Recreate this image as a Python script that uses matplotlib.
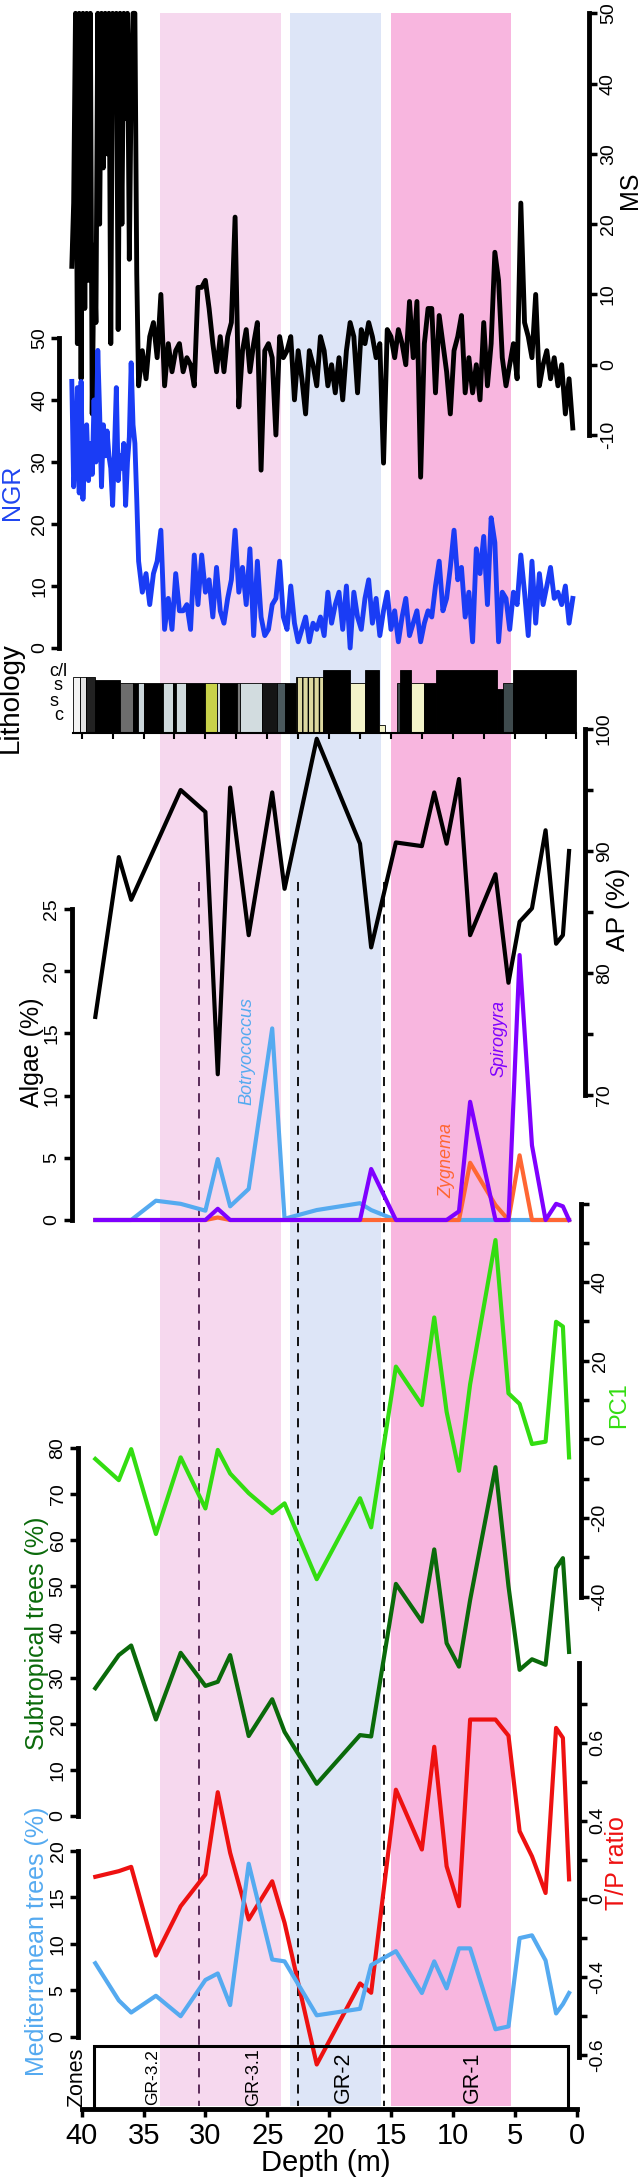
import numpy as np
import matplotlib
matplotlib.use('Agg')
import matplotlib.pyplot as plt
from matplotlib.patches import Rectangle

plt.rcParams['font.family'] = ['Liberation Sans', 'DejaVu Sans']
plt.rcParams['hatch.linewidth'] = 1.0

# ---------------- data ----------------
# high resolution logs (MS, NGR): deep part read every 0.15 m, rest every 0.3 m
deep_depth = np.round(np.arange(40.8, 35.5, -0.15), 2)
main_depth = np.round(np.arange(35.4, 0.2, -0.3), 1)
log_depth = np.concatenate([deep_depth, main_depth])

ms_deep = [14, 23, 50, 3, 50, -2, 50, 8, 50, 12,
           50, -7, 17, 6, 50, 20, 50, 28, 50, 30,
           50, 3, 50, 40, 50, 5, 50, 20, 50, 35,
           50, 15, 40, 50, 50, 13]
ms_main = [-3, 2,
           -2, 4, 6, 1, 10, -3, 3, -1, 2, 3,
           -1, 1, 0, -3, 11, 11, 12, 8, 3, -1,
           4, -1, 4, 6, 21, -6, 2, 5, -1, 3,
           6, -15, 2, 3, 1, -10, 4, 1, 2, 4,
           -5, 2, -2, -7, 2, 0, -3, 4, 2, -3,
           0, -4, 1, -5, 2, 6, 4, -4, 5, 3,
           6, 4, 1, 3, -14, 5, 4, 1, 5, 3,
           0, 9, 1, 9, -16, 3, 8, 8, -4, 7,
           3, -1, -7, 2, 4, 7, -4, 1, -4, 0,
           -5, 6, -3, 3, 16, 12, 1, -3, 0, 3,
           -2, 23, 6, 4, 1, 10, -3, 0, 2, -2,
           1, -3, 0, -7, -2, -9]
ngr_deep = [43, 26, 30, 42, 25, 43, 24, 33, 36, 27,
            33, 28, 40, 30, 48, 38, 26, 36, 31, 35,
            31, 29, 23, 32, 42, 27, 31, 29, 33, 23,
            30, 34, 46, 36, 33, 24]
ngr_main = [14, 9,
            12, 7, 12, 14, 19, 3, 8, 3, 12, 6,
            6, 7, 3, 15, 7, 15, 9, 11, 5, 13,
            6, 4, 8, 11, 19, 9, 13, 7, 16, 2,
            14, 5, 2, 3, 7, 8, 14, 5, 3, 10,
            4, 1, 3, 5, 1, 4, 3, 5, 2, 9,
            4, 7, 9, 3, 10, 0, 9, 5, 3, 8,
            11, 4, 8, 2, 6, 9, 3, 6, 1, 5,
            8, 2, 4, 6, 1, 4, 6, 5, 10, 14,
            6, 8, 13, 19, 11, 13, 5, 9, 1, 16,
            12, 18, 7, 21, 17, 1, 9, 8, 3, 9,
            7, 15, 9, 2, 14, 4, 12, 7, 10, 13,
            8, 9, 7, 10, 4, 8]
ms = ms_deep + ms_main
ngr = ngr_deep + ngr_main

# pollen / algae samples
pollen_depth = [38.9, 37.0, 36.0, 34.0, 32.0, 30.0, 29.0, 28.0, 26.5, 24.6,
                23.6, 21.0, 17.5, 16.6, 14.6, 12.5, 11.5, 10.5, 9.5, 8.6,
                6.55, 5.5, 4.6, 3.6, 2.5, 1.65, 1.1, 0.6]
ap = [76.4, 89.5, 86.0, 90.5, 95.0, 93.2, 71.7, 95.2, 83.1, 94.8,
      86.9, 99.2, 90.6, 82.1, 90.7, 90.4, 94.8, 90.6, 95.9, 83.1,
      88.1, 79.2, 84.2, 85.3, 91.7, 82.4, 83.1, 90.0]
botryococcus = [0, 0, 0, 1.55, 1.3, 0.75, 4.9, 1.1, 2.5, 15.4,
                0.1, 0.8, 1.35, 0.8, 0, 0, 0, 0, 0, 0,
                0, 0, 0, 0, 0, 0, 0, 0]
zygnema = [0, 0, 0, 0, 0, 0, 0.2, 0, 0, 0,
           0, 0, 0, 0, 0, 0, 0, 0, 0, 4.6,
           1.2, 0, 5.2, 0, 0, 0, 0, 0]
spirogyra = [0, 0, 0, 0, 0, 0, 0.9, 0, 0, 0,
             0, 0, 0, 4.1, 0, 0, 0, 0, 0.7, 9.5,
             0, 0, 21.3, 6.0, 0, 1.3, 1.1, 0]
pc1 = [-5.0, -10.4, -2.5, -24.1, -4.6, -17.6, -2.7, -8.7, -13.7, -18.8,
       -16.3, -35.6, -15.0, -22.4, 18.5, 8.7, 31.0, 7.0, -8.0, 14.0,
       50.7, 11.7, 9.0, -1.2, -0.6, 29.9, 28.7, -4.6]
subtropical = [27.8, 35.0, 37.1, 21.0, 35.5, 28.3, 29.2, 35.0, 17.4, 25.4,
               18.3, 7.0, 17.6, 17.3, 50.5, 42.3, 58.0, 37.6, 32.5, 47.0,
               75.9, 50.0, 31.8, 34.1, 32.9, 53.9, 56.1, 35.7]
tp_ratio = [0.113, 0.142, 0.164, -0.291, -0.038, 0.125, 0.547, 0.236, -0.106, 0.09,
            -0.123, -0.85, -0.434, -0.482, 0.56, 0.253, 0.78, 0.167, -0.038, 0.92,
            0.92, 0.837, 0.347, 0.218, 0.03, 0.877, 0.826, 0.1]
mediterranean = [7.9, 3.9, 2.6, 4.4, 2.2, 6.1, 6.8, 3.4, 18.6, 8.3,
                 8.1, 2.3, 3.0, 7.7, 9.2, 4.7, 8.1, 5.2, 9.5, 9.5,
                 0.8, 1.1, 10.6, 10.9, 8.2, 2.5, 3.5, 4.7]

# lithology units (deep end, shallow end, grain size level, colour)
lith_from = [40.68, 40.14, 39.65, 38.93, 36.9, 35.85, 35.45, 34.96, 33.42, 32.62,
             32.37, 31.57, 30.03, 29.06, 28.82, 27.45, 27.2, 25.42, 24.21, 23.57,
             22.68, 20.52, 18.31, 17.1, 15.96, 14.54, 14.27, 13.4, 12.33, 11.36,
             6.43, 5.97, 5.16]
lith_to = [40.14, 39.65, 38.93, 36.9, 35.85, 35.45, 34.96, 33.42, 32.62, 32.37,
           31.57, 30.03, 29.06, 28.82, 27.45, 27.2, 25.42, 24.21, 23.57, 22.68,
           20.52, 18.31, 17.1, 15.96, 15.47, 14.27, 13.4, 12.33, 11.36, 6.43,
           5.97, 5.16, 0.0]
lith_level = [0.89, 0.89, 0.89, 0.84, 0.80, 0.79, 0.79, 0.79, 0.79, 0.79,
              0.79, 0.79, 0.79, 0.79, 0.79, 0.79, 0.79, 0.79, 0.79, 0.79,
              0.89, 1.0, 0.79, 1.0, 0.12, 0.79, 1.0, 0.79, 0.79, 1.0,
              0.70, 0.79, 1.0]
lith_col = ['#f4f4f4', '#e4e4e4', '#222222', 'black', '#6d6d6d', 'black', '#cbd6da', 'black',
            '#d0dadd', 'black', '#d0dadd', 'black', '#c9d24a', '#d0dadd', 'black', '#7a7a7a',
            '#d2dcdf', '#151515', '#4a585c', 'black', '#ddd8a0', 'black', '#f3f3c9', 'black',
            '#f3f3c9', '#3a4446', 'black', '#f3f3c9', 'black', 'black', 'black', '#3e4a4d', 'black']

band_from = [33.65, 23.2, 15.0]
band_to = [23.93, 15.8, 5.3]
band_col = ['#f6d8ee', '#dde5f7', '#f8b6df']
dash_depth = [30.55, 22.5, 15.6]
dash_col = ['#4d1d4d', 'black', 'black']

zone_names = ['GR-3.2', 'GR-3.1', 'GR-2', 'GR-1']
zone_pos = [34.3, 26.1, 18.85, 8.43]
zone_size = [12.5, 13, 15.5, 15.5]

# ---------------- figure ----------------
W, H = 641, 2180
fig = plt.figure(figsize=(W / 100, H / 100), dpi=100)


def depth_at(xp):
    return (576.5 - xp) / 12.37


def panel(y_top, y_bot, x_left=81.8, x_right=576.5):
    ax = fig.add_axes([x_left / W, 1 - y_bot / H, (x_right - x_left) / W, (y_bot - y_top) / H])
    ax.set_xlim(depth_at(x_left), depth_at(x_right))
    ax.patch.set_visible(False)
    for s in ax.spines.values():
        s.set_visible(False)
    ax.set_xticks([])
    ax.set_yticks([])
    return ax


def yaxis(ax, side, lim, ticks, labels):
    ax.set_ylim(*lim)
    ax.spines[side].set_visible(True)
    ax.spines[side].set_linewidth(3.5)
    if side == 'right':
        ax.yaxis.tick_right()
    else:
        ax.yaxis.tick_left()
    ax.set_yticks(ticks)
    ax.set_yticklabels(labels, rotation=90, va='center', fontsize=14)
    ax.tick_params(axis='y', direction='out', length=6, width=2.5, pad=2)


def label(xp, yp, s, size, color='black', **kw):
    fig.text(xp / W, 1 - yp / H, s, rotation=90, ha='center', va='center',
             fontsize=size, color=color, **kw)


# background: zone bands and dashed lines
bg = fig.add_axes([81.8 / W, 0, (576.5 - 81.8) / W, 1])
bg.set_xlim(40, 0)
bg.set_ylim(H, 0)
bg.axis('off')
for a, b, c in zip(band_from, band_to, band_col):
    bg.fill_between([a, b], 13, 2106, color=c, lw=0)
for d, c in zip(dash_depth, dash_col):
    bg.plot([d, d], [882, 2106], color=c, lw=1.3, ls=(0, (5, 4)))

# MS
ax = panel(13.3, 435, x_right=588.7)
yaxis(ax, 'right', (-10, 50), range(-10, 51, 10), [str(v) for v in range(-10, 51, 10)])
ax.plot(log_depth, ms, color='black', lw=3.5, clip_on=False)
label(629.6, 190, 'MS', 18)

# NGR
ax = panel(338, 648, x_left=59.3)
yaxis(ax, 'left', (0, 50), range(0, 51, 10), [str(v) for v in range(0, 51, 10)])
ax.plot(log_depth, ngr, color='#1a3cf5', lw=3.5, clip_on=False)
label(12.3, 492, 'NGR', 18, '#1f45f0')

# Lithology
lith = panel(670, 732.7, x_left=73.3)
lith.set_ylim(0, 1)
for a, b, lv, c in zip(lith_from, lith_to, lith_level, lith_col):
    hatch = '|||' if c == '#ddd8a0' else None
    lith.add_patch(Rectangle((b, 0), a - b, lv, facecolor=c, edgecolor='black',
                             lw=0.6, hatch=hatch, clip_on=False))
lith.spines['bottom'].set_visible(True)
lith.spines['bottom'].set_linewidth(1.5)
lith.set_xticks(np.arange(40, -0.1, -2.5))
lith.tick_params(axis='x', direction='out', length=4, width=1.5, labelbottom=False)
label(11, 698, 'Lithology', 20)
for s, xp, yp in zip(['c/l', 's', 's', 'c'], [67, 63, 59, 63], [672, 686, 701, 715]):
    fig.text(xp / W, 1 - yp / H, s, ha='right', va='center', fontsize=13)

# AP
ax = panel(729, 1095, x_right=584.6)
yaxis(ax, 'right', (70, 100), range(70, 101, 5),
      [str(v) if v % 10 == 0 else '' for v in range(70, 101, 5)])
ax.plot(pollen_depth, ap, color='black', lw=3, clip_on=False)
label(618, 909, 'AP (%)', 19)

# Algae
ax = panel(909, 1220, x_left=71.5)
yaxis(ax, 'left', (0, 25), range(0, 26, 5), [str(v) for v in range(0, 26, 5)])
ax.plot(pollen_depth, botryococcus, color='#55aaf0', lw=3, clip_on=False)
ax.plot(pollen_depth, zygnema, color='#ff6633', lw=3, clip_on=False)
ax.plot(pollen_depth, spirogyra, color='#7f00ff', lw=3, clip_on=False)
label(31.7, 1052, 'Algae (%)', 18)
label(247.3, 1051, 'Botryococcus', 13, '#55aaf0', style='italic')
label(446.4, 1160, 'Zygnema', 13, '#ff6633', style='italic')
label(498.8, 1038, 'Spirogyra', 13, '#7f00ff', style='italic')

# PC1
ax = panel(1203.5, 1596.5, x_right=580.5)
yaxis(ax, 'right', (-40, 60), range(-40, 61, 10),
      [str(v) if v % 20 == 0 and v < 60 else '' for v in range(-40, 61, 10)])
ax.plot(pollen_depth, pc1, color='#33dd11', lw=3, clip_on=False)
label(619, 1405, 'PC1', 17, '#33dd11')

# Subtropical trees
ax = panel(1448.3, 1816, x_left=77.7)
yaxis(ax, 'left', (0, 80), range(0, 81, 10), [str(v) for v in range(0, 81, 10)])
ax.plot(pollen_depth, subtropical, color='#0a6a0a', lw=3, clip_on=False)
label(36.8, 1633, 'Subtropical trees (%)', 18, '#0a6a0a')

# T/P ratio
ax = panel(1663, 2056.7, x_right=578.5)
tp_ticks = [-0.8, -0.6, -0.4, -0.2, 0, 0.2, 0.4, 0.6, 0.8, 1.0]
tp_labels = ['-0.6', '', '-0.4', '', '0', '', '0.4', '', '0.6', '']
yaxis(ax, 'right', (-0.81, 1.21), tp_ticks, tp_labels)
ax.plot(pollen_depth, tp_ratio, color='#ee1111', lw=3, clip_on=False)
label(617, 1863, 'T/P ratio', 18, '#ee1111')

# Mediterranean trees
ax = panel(1850.7, 2036.7, x_left=77.7)
yaxis(ax, 'left', (0, 20), range(0, 21, 5), [str(v) for v in range(0, 21, 5)])
ax.plot(pollen_depth, mediterranean, color='#55aaf0', lw=3, clip_on=False)
label(36.8, 1941, 'Mediterranean trees (%)', 18, '#55aaf0')

# Zones + depth axis
bot = panel(2046, 2109)
bot.set_ylim(0, 1)
bot.spines['bottom'].set_visible(True)
bot.spines['bottom'].set_linewidth(3.5)
bot.set_xticks(range(40, -1, -5))
bot.set_xticklabels([str(v) for v in range(40, -1, -5)], fontsize=21)
bot.tick_params(axis='x', direction='out', length=6, width=2.5, pad=3)
bot.add_patch(Rectangle((0.66, 0.0), 39.0 - 0.66, 1.0, fill=False, lw=2.2,
                        ec='black', clip_on=False))
for n, p, s in zip(zone_names, zone_pos, zone_size):
    bot.text(p, 0.51, n, rotation=90, ha='center', va='center', fontsize=s)
label(76.7, 2077, 'Zones', 15.5)
fig.text(326 / W, 1 - 2163 / H, 'Depth (m)', ha='center', va='center', fontsize=21)

fig.savefig('out.png', dpi=100)
